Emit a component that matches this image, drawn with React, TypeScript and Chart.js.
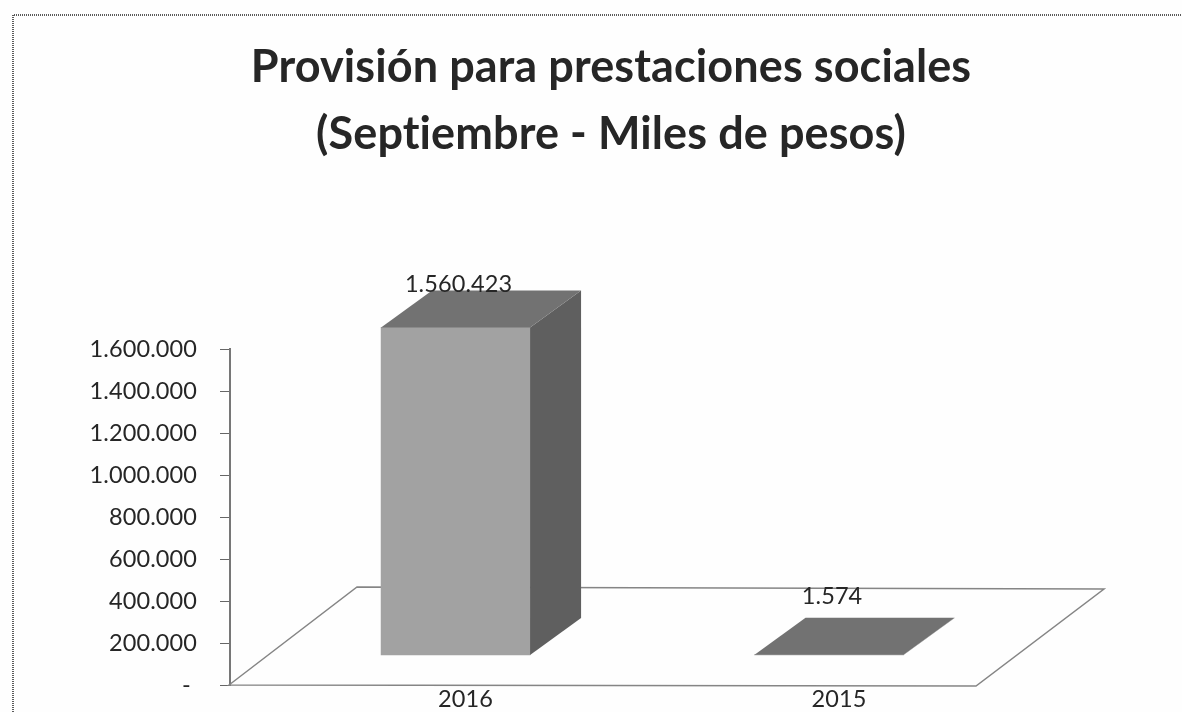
import React, { useEffect, useRef } from "react";
import { Chart, registerables } from "chart.js";

Chart.register(...registerables);

const titleLines = ["Provisión para prestaciones sociales", "(Septiembre - Miles de pesos)"];
const categories = ["2016", "2015"];
const categoryIndex = [0, 1];
const values = [1560423, 1574];
const valueLabels = ["1.560.423", "1.574"];
const yTickValues = [0, 200000, 400000, 600000, 800000, 1000000, 1200000, 1400000, 1600000];
const yTickLabels = ["- ", "200.000", "400.000", "600.000", "800.000", "1.000.000", "1.200.000", "1.400.000", "1.600.000"];

const FONT = "Lato, 'Open Sans', sans-serif";
const TEXT = "#262626";
const FRONT = "#a2a2a2";
const TOP = "#727272";
const SIDE = "#5f5f5f";
const LINE = "#858585";
const DEPTH = { dx: 51, dy: -37 };
const FLOOR = { dx: 128, dy: -98, width: 747 };
const LABEL_SHIFT = [
  { x: 3, y: -43 },
  { x: 3, y: -58 },
];

const pseudo3d = {
  id: "pseudo3d",
  beforeDraw(chart: any) {
    const { ctx, width, height } = chart;
    ctx.letterSpacing = "0.1px";
    ctx.save();
    ctx.fillStyle = "#fefefe";
    ctx.fillRect(0, 0, width, height);
    ctx.strokeStyle = "#5a5a5a";
    ctx.lineWidth = 2;
    ctx.setLineDash([1, 1]);
    ctx.beginPath();
    ctx.moveTo(13, height);
    ctx.lineTo(13, 15);
    ctx.lineTo(width, 15);
    ctx.stroke();
    ctx.restore();
  },
  beforeDatasetsDraw(chart: any) {
    const { ctx, chartArea } = chart;
    const x0 = chartArea.left - 1;
    const y0 = chartArea.bottom;
    ctx.save();
    ctx.strokeStyle = LINE;
    ctx.lineWidth = 1.5;
    ctx.beginPath();
    ctx.moveTo(x0, y0);
    ctx.lineTo(x0 + FLOOR.dx, y0 + FLOOR.dy);
    ctx.lineTo(x0 + FLOOR.dx + FLOOR.width, y0 + FLOOR.dy + 2);
    ctx.lineTo(x0 + FLOOR.width, y0 + 1);
    ctx.closePath();
    ctx.stroke();
    ctx.restore();
  },
  afterDatasetsDraw(chart: any) {
    const { ctx } = chart;
    const bars = chart.getDatasetMeta(0).data;
    ctx.save();
    bars.forEach((bar: any) => {
      const left = bar.x - bar.width / 2;
      const right = bar.x + bar.width / 2;
      const top = bar.y;
      const base = bar.base;
      ctx.fillStyle = SIDE;
      ctx.beginPath();
      ctx.moveTo(right, top);
      ctx.lineTo(right + DEPTH.dx, top + DEPTH.dy);
      ctx.lineTo(right + DEPTH.dx, base + DEPTH.dy);
      ctx.lineTo(right, base);
      ctx.closePath();
      ctx.fill();
      ctx.fillStyle = TOP;
      ctx.beginPath();
      ctx.moveTo(left, top);
      ctx.lineTo(left + DEPTH.dx, top + DEPTH.dy);
      ctx.lineTo(right + DEPTH.dx, top + DEPTH.dy);
      ctx.lineTo(right, top);
      ctx.closePath();
      ctx.fill();
    });
    ctx.fillStyle = TEXT;
    ctx.font = `23.5px ${FONT}`;
    ctx.textAlign = "center";
    ctx.textBaseline = "middle";
    bars.forEach((bar: any, i: number) => {
      ctx.fillText(valueLabels[i], bar.x + LABEL_SHIFT[i].x, bar.y + LABEL_SHIFT[i].y);
    });
    ctx.restore();
  },
};

export default function App() {
  const ref = useRef<HTMLCanvasElement>(null);
  useEffect(() => {
    if (!ref.current) return;
    const chart = new Chart(ref.current, {
      type: "bar",
      plugins: [pseudo3d],
      data: {
        datasets: [
          {
            data: categoryIndex.map((c, i) => ({ x: c, y: values[i] })),
            xAxisID: "x",
            yAxisID: "yBars",
            backgroundColor: FRONT,
            barThickness: 149,
            clip: false,
          } as any,
        ],
      },
      options: {
        responsive: false,
        animation: false,
        layout: { padding: { left: 40, right: 0, top: 0, bottom: 0 } },
        plugins: {
          legend: { display: false },
          tooltip: { enabled: false },
          title: {
            display: true,
            text: titleLines,
            color: TEXT,
            font: { family: FONT, size: 45, weight: "bold", lineHeight: 1.49 },
            padding: { top: 34, bottom: 181 },
          },
        },
        scales: {
          x: {
            type: "linear",
            offset: false,
            min: -0.604,
            max: 1.945,
            grid: { display: false, drawTicks: false, tickLength: 0 },
            border: { display: false },
            afterBuildTicks: (s: any) => {
              s.ticks = categoryIndex.map((v) => ({ value: v }));
            },
            afterFit: (s: any) => {
              s.height = 27;
              s.paddingLeft = 0;
              s.paddingRight = 0;
            },
            ticks: {
              autoSkip: false,
              maxRotation: 0,
              labelOffset: 10,
              padding: 0,
              color: TEXT,
              font: { family: FONT, size: 23.5 },
              callback: (v: any) => categories[v],
            },
          },
          y: {
            type: "linear",
            position: "left",
            min: 0,
            max: 1600000,
            afterBuildTicks: (s: any) => {
              s.ticks = yTickValues.map((v) => ({ value: v }));
            },
            afterFit: (s: any) => {
              s.width = 190;
              s.paddingTop = 0;
              s.paddingBottom = 0;
            },
            border: { display: true, color: "#777777", width: 2 },
            grid: { display: true, drawOnChartArea: false, drawTicks: true, tickLength: 10, color: "#666666" },
            ticks: {
              padding: 23,
              color: TEXT,
              font: { family: FONT, size: 23.5 },
              callback: (v: any) => yTickLabels[yTickValues.indexOf(v)],
            },
          },
          yBars: {
            type: "linear",
            display: false,
            min: -142857,
            max: 1457143,
          },
        },
      } as any,
    });
    return () => chart.destroy();
  }, []);
  return (
    <div style={{ position: "absolute", left: 0, top: 0, width: 1182, height: 712 }}>
      <canvas ref={ref} width={1182} height={712} style={{ display: "block" }} />
    </div>
  );
}
